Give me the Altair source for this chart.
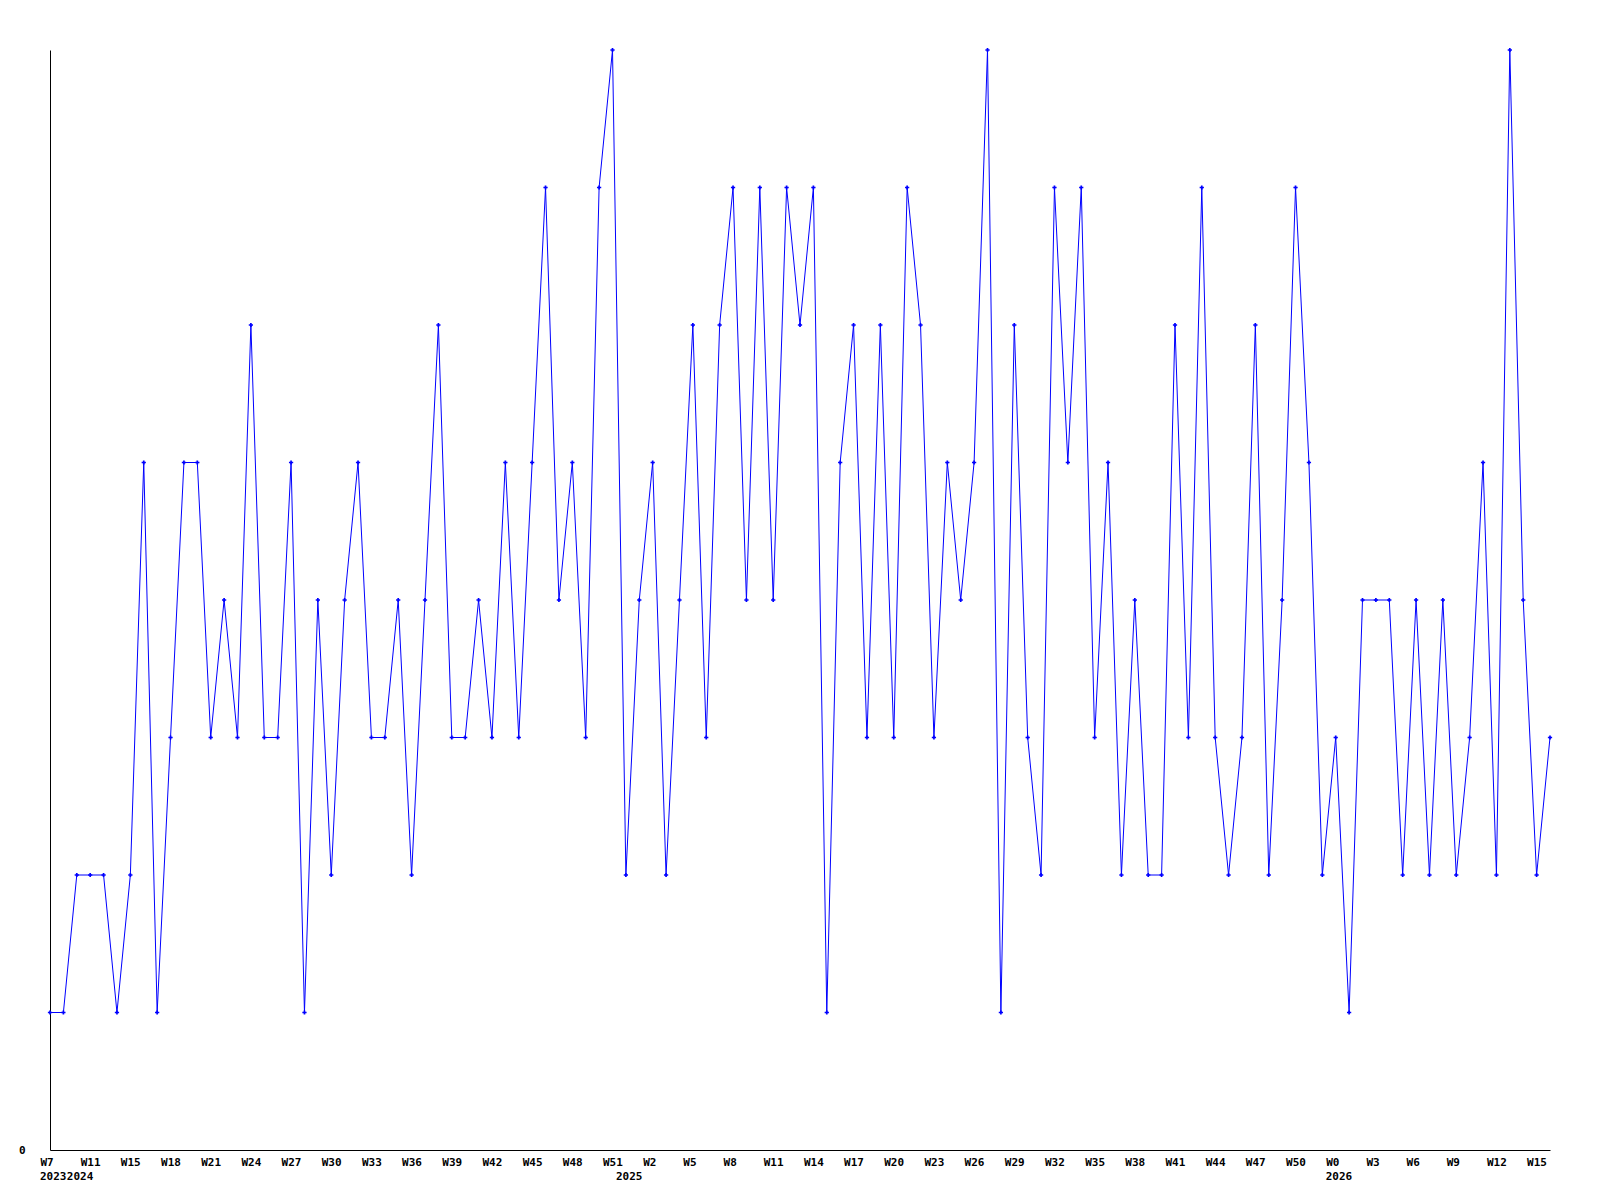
import altair as alt
import pandas as pd

# weekly values (index = position along the x axis)
values = [1, 1, 2, 2, 2, 1, 2, 5, 1, 3,
          5, 5, 3, 4, 3, 6, 3, 3, 5, 1,
          4, 2, 4, 5, 3, 3, 4, 2, 4, 6,
          3, 3, 4, 3, 5, 3, 5, 7, 4, 5,
          3, 7, 8, 2, 4, 5, 2, 4, 6, 3,
          6, 7, 4, 7, 4, 7, 6, 7, 1, 5,
          6, 3, 6, 3, 7, 6, 3, 5, 4, 5,
          8, 1, 6, 3, 2, 7, 5, 7, 3, 5,
          2, 4, 2, 2, 6, 3, 7, 3, 2, 3,
          6, 2, 4, 7, 5, 2, 3, 1, 4, 4,
          4, 2, 4, 2, 4, 2, 3, 5, 2, 8,
          4, 2, 3]

# week tick labels, one every 3 points
week_labels = ["W7", "W11", "W15", "W18", "W21", "W24", "W27", "W30", "W33", "W36",
               "W39", "W42", "W45", "W48", "W51", "W2", "W5", "W8", "W11", "W14",
               "W17", "W20", "W23", "W26", "W29", "W32", "W35", "W38", "W41", "W44",
               "W47", "W50", "W0", "W3", "W6", "W9", "W12", "W15"]
week_tick_idx = [3 * k for k in range(len(week_labels))]

# year labels and the index where each year starts
year_labels = ["2023", "2024", "2025", "2026"]
year_idx = [0, 2, 43, 96]

df = pd.DataFrame({"idx": list(range(len(values))), "value": values})
ydf = pd.DataFrame({"idx": year_idx, "year": year_labels})

FONT = "DejaVu Sans Mono"
W, H = 1500, 1100

label_js = "[" + ",".join("'%s'" % s for s in week_labels) + "]"

xscale = alt.Scale(domain=[0, len(values) - 1], nice=False, zero=False)
yscale = alt.Scale(domain=[0, 8], nice=False)

base = alt.Chart(df)

line = base.mark_line(color="#0000ff", strokeWidth=1).encode(
    x=alt.X("idx:Q", scale=xscale,
            axis=alt.Axis(values=week_tick_idx, labelExpr=label_js + "[round(datum.value/3)]",
                          title=None, grid=False, ticks=False, domainColor="black",
                          labelAlign="left", labelOffset=-10, labelPadding=6,
                          labelFont=FONT, labelFontSize=11, labelFontWeight="bold",
                          labelColor="black", labelOverlap=False, labelFlush=False)),
    y=alt.Y("value:Q", scale=yscale,
            axis=alt.Axis(values=[0], format="d", title=None, grid=False, ticks=False,
                          domainColor="black", labelPadding=25,
                          labelFont=FONT, labelFontSize=11, labelFontWeight="bold",
                          labelColor="black")),
)

points = base.mark_point(shape="cross", filled=True, color="#0000ff", size=18, opacity=1).encode(
    x=alt.X("idx:Q", scale=xscale),
    y=alt.Y("value:Q", scale=yscale),
)

years = alt.Chart(ydf).mark_text(align="left", dx=-10, baseline="middle",
                                 font=FONT, fontSize=11, fontWeight="bold",
                                 color="black").encode(
    x=alt.X("idx:Q", scale=xscale),
    y=alt.value(H + 27),
    text="year:N",
)

chart = alt.layer(line, points, years).properties(
    width=W, height=H,
    background="white",
    autosize=alt.AutoSizeParams(type="none"),
    padding={"left": 42, "top": 42, "right": 42, "bottom": 50},
).configure_view(strokeWidth=0, stroke=None)

chart.save("out.html", embed_options={"renderer": "svg", "actions": False})
